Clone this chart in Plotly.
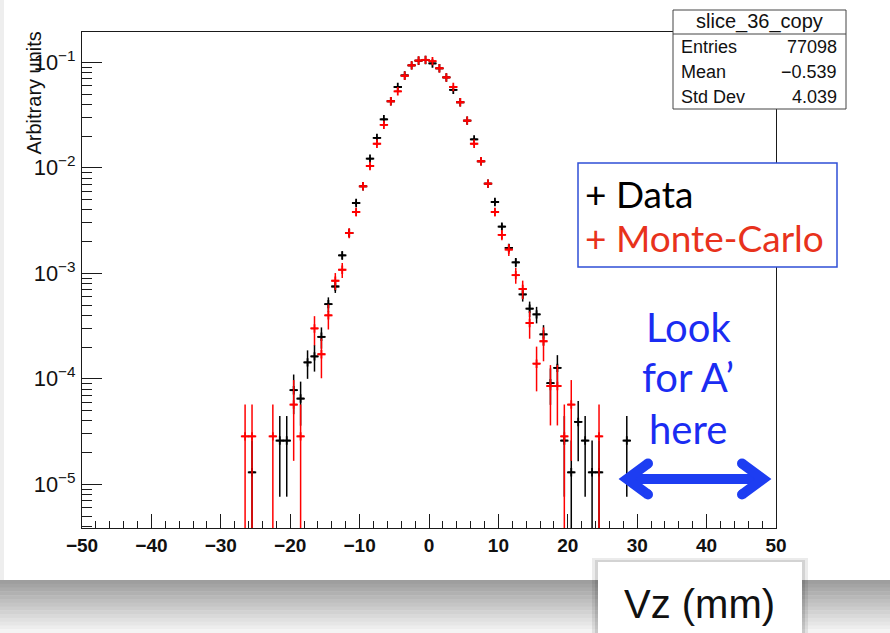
import numpy as np
import plotly.graph_objects as go

# ---------------- data ----------------
data_x = [-25.5, -21.5, -20.5, -19.5, -18.5, -17.5, -16.5, -15.5, -14.5, -13.5,
          -12.5, -11.5, -10.5, -9.5, -8.5, -7.5, -6.5, -5.5, -4.5, -3.5,
          -2.5, -1.5, -0.5, 0.5, 1.5, 2.5, 3.5, 4.5, 5.5, 6.5,
          7.5, 8.5, 9.5, 10.5, 11.5, 12.5, 13.5, 14.5, 15.5, 16.5,
          17.5, 18.5, 19.5, 20.5, 21.5, 22.5, 23.5, 24.5, 28.5]
data_y = [1.3e-5, 2.6e-5, 2.6e-5, 7.8e-5, 6.5e-5, 1.43e-4, 1.63e-4, 2.5e-4, 5.1e-4, 7.5e-4,
          1.48e-3, 2.41e-3, 4.64e-3, 6.68e-3, 1.22e-2, 1.92e-2, 2.88e-2, 4.27e-2, 5.83e-2, 7.5e-2,
          9.35e-2, 0.1035, 0.105, 0.0975, 0.0877, 0.0718, 0.0548, 0.0418, 0.028, 0.0186,
          0.0115, 7.08e-3, 4.74e-3, 2.77e-3, 1.74e-3, 1.27e-3, 6.3e-4, 4.62e-4, 4.08e-4, 2.64e-4,
          9.1e-5, 1.27e-4, 2.6e-5, 1.3e-5, 3.9e-5, 2.6e-5, 1.3e-5, 1.3e-5, 2.6e-5]

mc_x = [-26.5, -25.5, -22.5, -19.5, -18.5, -16.5, -15.5, -14.5, -13.5, -12.5,
        -11.5, -10.5, -9.5, -8.5, -7.5, -6.5, -5.5, -4.5, -3.5, -2.5,
        -1.5, -0.5, 0.5, 1.5, 2.5, 3.5, 4.5, 5.5, 6.5, 7.5,
        8.5, 9.5, 10.5, 11.5, 12.5, 13.5, 14.5, 15.5, 16.5, 17.5,
        18.5, 19.5, 20.5, 24.5]
mc_y = [2.85e-5, 2.85e-5, 2.85e-5, 5.7e-5, 2.85e-5, 3.0e-4, 1.71e-4, 4.0e-4, 8.5e-4, 1.08e-3,
        2.41e-3, 3.81e-3, 6.68e-3, 1.04e-2, 1.69e-2, 2.55e-2, 4.27e-2, 5.31e-2, 7.45e-2, 9.35e-2,
        0.1038, 0.1055, 0.1025, 0.0878, 0.0718, 0.0583, 0.0418, 0.028, 0.0169, 0.01153,
        7.08e-3, 3.81e-3, 2.31e-3, 1.68e-3, 9.6e-4, 7.1e-4, 3.38e-4, 1.39e-4, 2.27e-4, 8.55e-5,
        8.55e-5, 2.85e-5, 5.7e-5, 2.85e-5]

data_entries = 77098          # per-entry weight of the normalised data histogram
mc_weight = 2.85e-5           # per-entry weight of the normalised MC histogram

stats_title = "slice_36_copy"
stats_rows = [("Entries", "77098"), ("Mean", "\u22120.539"), ("Std Dev", "4.039")]

x_ticks = [-50, -40, -30, -20, -10, 0, 10, 20, 30, 40, 50]

# Poisson errors of the weighted bins
data_err = [np.sqrt(v / data_entries) for v in data_y]
mc_err = [np.sqrt(v * mc_weight) for v in mc_y]

# ---------------- geometry helpers (pixel -> paper) ----------------
W, H = 890, 633
L, R, T, B = 82, 776, 32, 528


def X(px):
    return (px - L) / (R - L)


def Y(py):
    return (B - py) / (B - T)


fig = go.Figure()


def add_hist(x, y, err, color):
    fig.add_trace(go.Scatter(
        x=x, y=y, mode="markers",
        marker=dict(symbol="cross-thin", size=6, color=color,
                    line=dict(width=1.8, color=color)),
        error_x=dict(type="constant", value=0.5, color=color, thickness=1.8, width=0),
        error_y=dict(type="data", array=err, symmetric=True, color=color,
                     thickness=1.5, width=0),
        showlegend=False, hoverinfo="skip"))


add_hist(data_x, data_y, data_err, "#000000")
add_hist(mc_x, mc_y, mc_err, "#ff0000")

axis_col = "#1a1a1a"

fig.update_xaxes(
    range=[-50, 50], showgrid=False, zeroline=False,
    showline=True, mirror=True, linecolor=axis_col, linewidth=1,
    ticks="inside", ticklen=14, tickwidth=1, tickcolor=axis_col,
    tickvals=x_ticks, ticktext=[("\u2212" + str(-v)) if v < 0 else str(v) for v in x_ticks],
    tickfont=dict(family="Liberation Sans", size=19, color="#111", weight="bold"),
    ticklabelstandoff=0,
    minor=dict(ticks="inside", ticklen=7, tickwidth=1, tickcolor=axis_col, dtick=2,
               showgrid=False),
)
fig.update_yaxes(
    type="log", range=[-5.414, -0.713], showgrid=False, zeroline=False,
    showline=True, mirror=True, linecolor=axis_col, linewidth=1,
    ticks="inside", ticklen=20, tickwidth=1, tickcolor=axis_col,
    dtick=1, exponentformat="power", showexponent="all",
    tickfont=dict(family="Liberation Sans", size=17.5, color="#111"),
    ticklabelstandoff=2,
    minor=dict(ticks="inside", ticklen=10, tickwidth=1, tickcolor=axis_col,
               dtick="D1", showgrid=False),
)

shapes = []
# left light strip and bottom shadow of the slide picture
shapes.append(dict(type="rect", xref="paper", yref="paper", x0=X(0), x1=X(4), y0=Y(580), y1=Y(0),
                   fillcolor="#eeeeee", line=dict(width=0), layer="below"))
n = 14
for i in range(n):
    y0 = 580 + i * (633 - 580) / n
    y1 = 580 + (i + 1) * (633 - 580) / n
    g = int(158 + (244 - 158) * (i / (n - 1)))
    shapes.append(dict(type="rect", xref="paper", yref="paper", x0=X(0), x1=X(W),
                       y0=Y(y1 + 0.5), y1=Y(y0), fillcolor=f"rgb({g},{g},{g})",
                       line=dict(width=0), layer="above"))

# stats box
shapes.append(dict(type="rect", xref="paper", yref="paper", x0=X(673), x1=X(846), y0=Y(109), y1=Y(10),
                   fillcolor="white", line=dict(color="#444", width=1), layer="above"))
shapes.append(dict(type="line", xref="paper", yref="paper", x0=X(673), x1=X(846), y0=Y(34), y1=Y(34),
                   line=dict(color="#444", width=1), layer="above"))
# legend box
shapes.append(dict(type="rect", xref="paper", yref="paper", x0=X(578), x1=X(837), y0=Y(267), y1=Y(163),
                   fillcolor="white", line=dict(color="#2f4fd6", width=1.5), layer="above"))
# Vz box with soft shadow
shapes.append(dict(type="rect", xref="paper", yref="paper", x0=X(592), x1=X(808), y0=Y(640), y1=Y(558),
                   fillcolor="rgba(0,0,0,0.08)", line=dict(width=0), layer="above"))
shapes.append(dict(type="rect", xref="paper", yref="paper", x0=X(595), x1=X(805), y0=Y(640), y1=Y(560),
                   fillcolor="rgba(0,0,0,0.10)", line=dict(width=0), layer="above"))
shapes.append(dict(type="rect", xref="paper", yref="paper", x0=X(598), x1=X(802), y0=Y(640), y1=Y(562),
                   fillcolor="white", line=dict(width=0), layer="above"))

# double arrow
blue = "#1d3df2"
shapes.append(dict(type="line", xref="paper", yref="paper", x0=X(626), x1=X(764), y0=Y(479), y1=Y(479),
                   line=dict(color=blue, width=10), layer="above"))


def chevron(tip_x, arm_x):
    return (f"M {X(arm_x)},{Y(463.5)} L {X(tip_x)},{Y(479)} L {X(arm_x)},{Y(494.5)}")


shapes.append(dict(type="path", xref="paper", yref="paper", path=chevron(627, 648),
                   line=dict(color=blue, width=10), layer="above"))
shapes.append(dict(type="path", xref="paper", yref="paper", path=chevron(763, 742),
                   line=dict(color=blue, width=10), layer="above"))
for cx, cy in [(648, 463.5), (648, 494.5), (742, 463.5), (742, 494.5)]:
    shapes.append(dict(type="circle", xref="paper", yref="paper",
                       x0=X(cx - 5), x1=X(cx + 5), y0=Y(cy + 5), y1=Y(cy - 5),
                       fillcolor=blue, line=dict(width=0), layer="above"))

annotations = []
# y axis title
annotations.append(dict(text="Arbitrary units", xref="paper", yref="paper", x=X(34), y=Y(29),
                        xanchor="center", yanchor="top", textangle=-90, showarrow=False,
                        font=dict(family="Liberation Sans", size=20, color="#111")))
# stats
annotations.append(dict(text=stats_title, xref="paper", yref="paper", x=X(759.5), y=Y(22),
                        xanchor="center", yanchor="middle", showarrow=False,
                        font=dict(family="Liberation Sans", size=20, color="#111")))
for i, (k, v) in enumerate(stats_rows):
    yy = 47 + 25 * i
    annotations.append(dict(text=k, xref="paper", yref="paper", x=X(679), y=Y(yy),
                            xanchor="left", yanchor="middle", showarrow=False,
                            font=dict(family="Liberation Sans", size=18, color="#111")))
    annotations.append(dict(text=v, xref="paper", yref="paper", x=X(839), y=Y(yy),
                            xanchor="right", yanchor="middle", showarrow=False,
                            font=dict(family="Liberation Sans", size=18, color="#111")))
# legend texts
annotations.append(dict(text="+ Data", xref="paper", yref="paper", x=X(583), y=Y(193),
                        xanchor="left", yanchor="middle", showarrow=False,
                        font=dict(family="Lato", size=37, color="#000000")))
annotations.append(dict(text="+ Monte-Carlo", xref="paper", yref="paper", x=X(583), y=Y(238),
                        xanchor="left", yanchor="middle", showarrow=False,
                        font=dict(family="Lato", size=37, color="#e8321c")))
# blue note
for txt, yy in [("Look", 327), ("for A\u2019", 377), ("here", 429)]:
    annotations.append(dict(text=txt, xref="paper", yref="paper", x=X(688), y=Y(yy),
                            xanchor="center", yanchor="middle", showarrow=False,
                            font=dict(family="Lato", size=40, color="#1a2cf2")))
# Vz label
annotations.append(dict(text="Vz (mm)", xref="paper", yref="paper", x=X(699), y=Y(604),
                        xanchor="center", yanchor="middle", showarrow=False,
                        font=dict(family="Liberation Sans", size=40, color="#111")))

fig.update_layout(
    width=W, height=H,
    margin=dict(l=L, r=W - R, t=T, b=H - B),
    paper_bgcolor="white", plot_bgcolor="white",
    font=dict(family="Liberation Sans"),
    shapes=shapes, annotations=annotations,
    showlegend=False,
)

fig.write_html("out.html")
